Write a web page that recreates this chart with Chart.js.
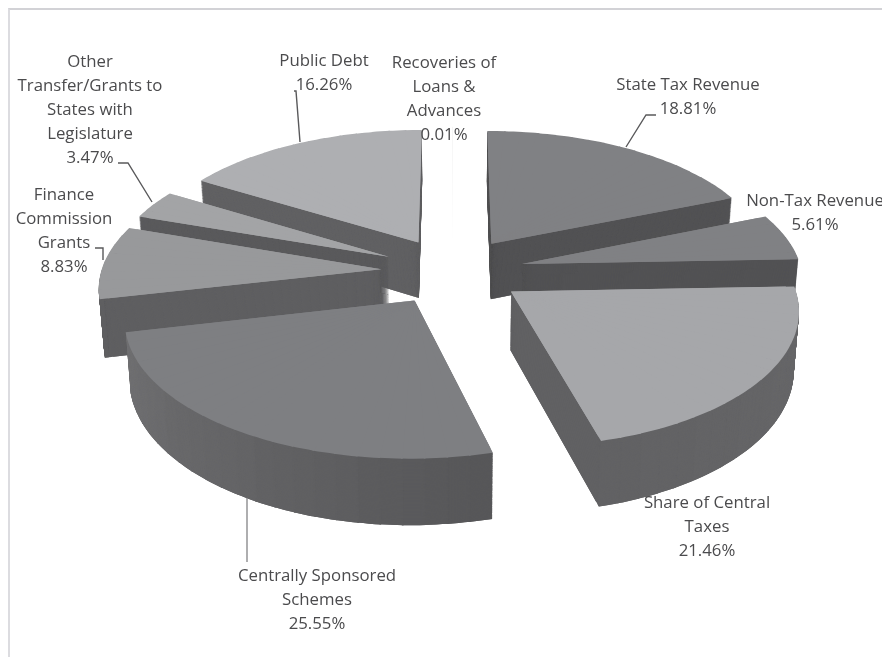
<!DOCTYPE html>
<html>
<head>
<meta charset="utf-8">
<style>
html,body{margin:0;padding:0;background:#fff;overflow:hidden}
#wrap{position:relative;width:882px;height:657px;overflow:hidden}
#frame{position:absolute;left:8px;top:8px;right:-4px;bottom:-4px;border-top:2px solid #d2d2d6;border-left:2px solid #dcdce0}
canvas{position:absolute;left:0;top:0;filter:blur(0.5px)}
</style>
<script src="https://cdn.jsdelivr.net/npm/chart.js@4/dist/chart.umd.min.js"></script>
</head>
<body>
<div id="wrap"><div id="frame"></div><canvas id="c" width="882" height="657"></canvas></div>
<script>
const categories = ['State Tax Revenue','Non-Tax Revenue','Share of Central Taxes','Centrally Sponsored Schemes','Finance Commission Grants','Other Transfer/Grants to States with Legislature','Public Debt','Recoveries of Loans & Advances'];
const shares = [18.81,5.61,21.46,25.55,8.83,3.47,16.26,0.01];
const faceColors = ['#808184','#808184','#a6a7aa','#7e7f82','#98999b','#a3a4a6','#aeafb2','#b8b8b8'];
const radialWallColors = ['#525254','#525254','#616163','#5a5a5c','#5f5f61','#5a5a5c','#616163','#b8b8b8'];
const outerWallFrom = ['#525254','#525254','#68686a','#565658','#5f5f61','#5a5a5c','#616163','#b8b8b8'];
const outerWallTo   = ['#525254','#525254','#626264','#717173','#5f5f61','#5a5a5c','#616163','#b8b8b8'];
const labelLines = [
  ['State Tax Revenue','18.81%'],
  ['Non-Tax Revenue','5.61%'],
  ['Share of Central','Taxes','21.46%'],
  ['Centrally Sponsored','Schemes','25.55%'],
  ['Finance','Commission','Grants','8.83%'],
  ['Other','Transfer/Grants to','States with','Legislature','3.47%'],
  ['Public Debt','16.26%'],
  ['Recoveries of','Loans &','Advances','0.01%']
];
const labelCenters = [[688,85],[815,201],[707,503],[317,576],[64,195],[90,62],[324,61],[444,63]];
const leaders = [
  [[656,115],[646,115],[626,147]],
  [[247,498],[247,562]],
  [[95,248],[103,248],[103,260]],
  [[118,163],[128,163],[152,202]],
  [[294,91],[296,91],[300,142]]
];
const leaderColors = ['#59595b','#8c8c8e','#59595b','#59595b','#59595b'];

// perspective of the tilted pie
const view = {vx:452.5, vy:271, R:280, B:132, k:0.1175, explode:0.255, depth:57, shrink:0.015};
const LABEL_FONT = '16.8px "Open Sans"';
const LINE_H = 24;

function proj(X, Y, h) {
  const s = 1 / (1 - view.k * Y);
  let x = view.vx + view.R * X * s;
  const y = view.vy + view.B * Y * s + h * s;
  x = view.vx + (x - view.vx) * (1 - view.shrink * h / view.depth);
  return {x, y};
}
function hexMix(a, b, t) {
  const p = c => [1,3,5].map(i => parseInt(c.substr(i,2),16));
  const A = p(a), B = p(b);
  return 'rgb(' + A.map((v,i) => Math.round(v + (B[i]-v)*t)).join(',') + ')';
}
function drawSub(ctx, arc, t0, t1, h, color, innerFrac, apex, outerFrac) {
  const r = arc.saved.outerRadius;
  const A = proj(apex[0], apex[1], h);
  const P = proj(apex[0] + Math.cos(t0), apex[1] + Math.sin(t0), h);
  const Q = proj(apex[0] + Math.cos(t1), apex[1] + Math.sin(t1), h);
  const ux = r*Math.cos(t0), uy = r*Math.sin(t0), vx = r*Math.cos(t1), vy = r*Math.sin(t1);
  const det = ux*vy - uy*vx;
  const px = P.x-A.x, py = P.y-A.y, qx = Q.x-A.x, qy = Q.y-A.y;
  const a = (px*vy - qx*uy)/det, c = (qx*ux - px*vx)/det;
  const b = (py*vy - qy*uy)/det, d = (qy*ux - py*vx)/det;
  const e = A.x - a*arc.x - c*arc.y, f = A.y - b*arc.x - d*arc.y;
  ctx.save();
  ctx.transform(a,b,c,d,e,f);
  arc.startAngle = t0; arc.endAngle = t1; arc.circumference = t1-t0;
  arc.innerRadius = r*innerFrac; arc.outerRadius = r*(outerFrac||1);
  arc.options = Object.assign({}, arc.saved.options, {backgroundColor: color, borderWidth: 0});
  arc.draw(ctx);
  ctx.restore();
}
function drawSplit(ctx, arc, t0, t1, h, colorFn, innerFrac, apex) {
  const span = t1 - t0;
  const n = Math.max(1, Math.ceil(span / (4*Math.PI/180)));
  const ov = n > 1 ? 0.3*Math.PI/180 : 0;
  for (let i = 0; i < n; i++) {
    const a = t0 + span*i/n, b = Math.min(t1, t0 + span*(i+1)/n + ov);
    drawSub(ctx, arc, a, b, h, colorFn((i+0.5)/n), innerFrac, apex);
  }
}
const pie3d = {
  id: 'pie3d',
  beforeDatasetsDraw(chart) {
    const ctx = chart.ctx, arcs = chart.getDatasetMeta(0).data;
    const order = arcs.map((arc,i) => ({arc,i,m:(arc.startAngle+arc.endAngle)/2}))
      .sort((p,q) => Math.sin(p.m) - Math.sin(q.m));
    for (const {arc,i,m} of order) {
      arc.saved = {startAngle:arc.startAngle,endAngle:arc.endAngle,circumference:arc.circumference,
                   innerRadius:arc.innerRadius,outerRadius:arc.outerRadius,options:arc.options};
      const t0 = arc.startAngle, t1 = arc.endAngle;
      const apex = [view.explode*Math.cos(m), view.explode*Math.sin(m)];
      const hasWall = shares[i] >= 0.5;
      if (hasWall) {
        for (let h = view.depth; h >= 1; h -= 1) {
          drawSub(ctx, arc, t0, t1, h, radialWallColors[i], 0, apex, 0.97);
          drawSplit(ctx, arc, t0, t1, h, () => radialWallColors[i], 0, apex);
        }
        // outer rim of the slice, only where it faces the viewer (sin > 0)
        const lo = Math.max(t0, 0), hi = Math.min(t1, Math.PI);
        if (hi > lo) {
          for (let h = view.depth; h >= 1; h -= 1)
            drawSplit(ctx, arc, lo, hi, h, u => hexMix(outerWallFrom[i], outerWallTo[i], u), 0.985, apex);
        }
      }
      if (hasWall) drawSub(ctx, arc, t0, t1, 0, faceColors[i], 0, apex, 0.97);
      drawSplit(ctx, arc, t0, t1, 0, () => faceColors[i], 0, apex);
      Object.assign(arc, arc.saved);
      delete arc.saved;
    }
    // leader lines
    leaders.forEach((pts, j) => {
      ctx.beginPath();
      pts.forEach((p, k) => k ? ctx.lineTo(p[0], p[1]) : ctx.moveTo(p[0], p[1]));
      ctx.strokeStyle = leaderColors[j];
      ctx.lineWidth = 1.4;
      ctx.stroke();
    });
    // data labels
    ctx.save();
    ctx.font = LABEL_FONT;
    ctx.fillStyle = '#4b4b4d';
    ctx.textAlign = 'center';
    ctx.textBaseline = 'middle';
    labelLines.forEach((lines, i) => {
      lines.forEach((t, k) => ctx.fillText(t, labelCenters[i][0], labelCenters[i][1] + k*LINE_H));
    });
    ctx.restore();
    return false;
  }
};
new Chart(document.getElementById('c'), {
  type: 'pie',
  data: { labels: categories, datasets: [{ data: shares, backgroundColor: faceColors, borderWidth: 0 }] },
  options: {
    responsive: false,
    animation: false,
    events: [],
    plugins: { legend: {display:false}, tooltip: {enabled:false} }
  },
  plugins: [pie3d]
});
</script>
</body>
</html>
